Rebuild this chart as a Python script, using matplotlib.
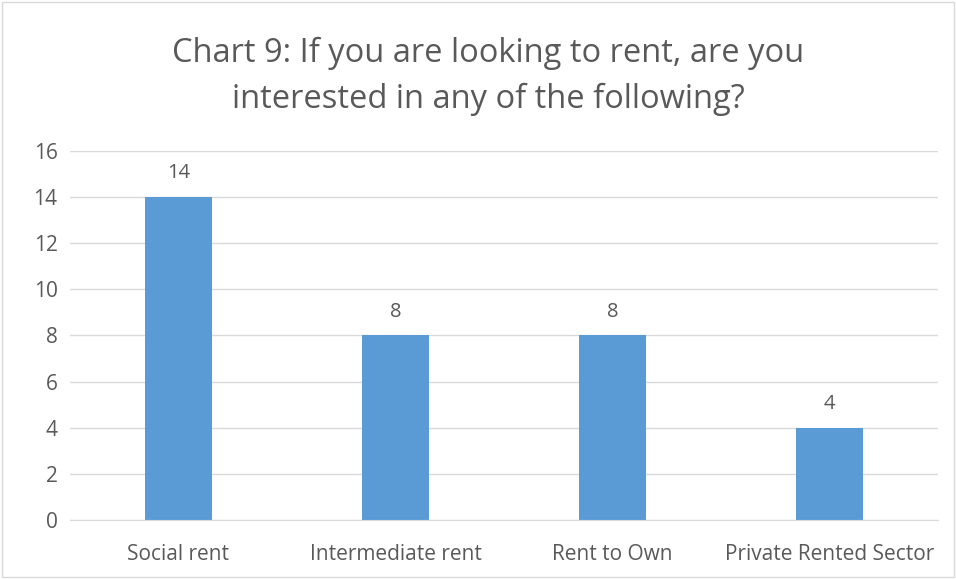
import matplotlib

matplotlib.use("Agg")
import matplotlib.pyplot as plt
from matplotlib.patches import Rectangle

categories = ["Social rent", "Intermediate rent", "Rent to Own", "Private Rented Sector"]
values = [14, 8, 8, 4]
yticks = [0, 2, 4, 6, 8, 10, 12, 14, 16]

BAR = "#5B9BD5"
TXT = "#595959"
GRID = "#D9D9D9"

plt.rcParams["font.family"] = ["Open Sans", "DejaVu Sans"]

fig = plt.figure(figsize=(9.56, 5.79), dpi=100)
fig.patch.set_facecolor("white")
ax = fig.add_axes([0.0732, 0.1019, 0.908, 0.6375])

x = range(len(categories))
ax.bar(x, values, width=0.31, color=BAR, zorder=2)
for i, v in enumerate(values):
    ax.text(i, v + 0.6, str(v), ha="center", va="bottom", color=TXT, fontsize=14.5)

ax.set_xlim(-0.5, len(categories) - 0.5)
ax.set_ylim(0, 16)
ax.set_yticks(yticks)
ax.set_xticks(list(x))
ax.set_xticklabels(categories)
ax.yaxis.grid(True, color=GRID, lw=1, zorder=0)
ax.tick_params(axis="both", length=0, colors=TXT, labelsize=15)
ax.tick_params(axis="y", pad=9)
ax.tick_params(axis="x", pad=17)
for s in ["top", "right", "left"]:
    ax.spines[s].set_visible(False)
ax.spines["bottom"].set_color(GRID)

fig.text(0.511, 0.868, "Chart 9: If you are looking to rent, are you\ninterested in any of the following?",
         ha="center", va="center", color=TXT, fontsize=23.5, linespacing=1.52)

fig.add_artist(Rectangle((0.002, 0.003), 0.996, 0.994, transform=fig.transFigure,
                         fill=False, edgecolor="#D9D9D9", lw=1))

fig.savefig("out.png", dpi=100, facecolor="white")
